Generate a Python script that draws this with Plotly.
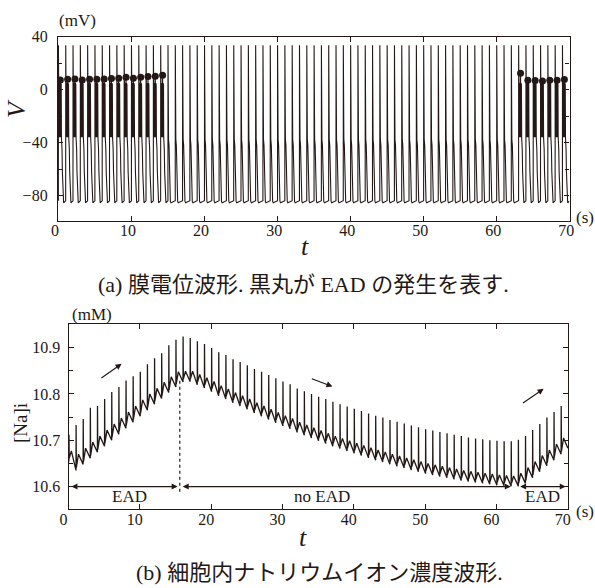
import numpy as np
import plotly.graph_objects as go

INK = "#231815"
FONT = '"Liberation Serif", "Times New Roman", serif'
FONT_JP = '"Liberation Serif", "Noto Sans CJK JP", serif'
W, H = 595, 588

# ---- stimulation: beat onset times (s) ----
beat_onset_s = [0.05, 1.05, 2.05, 3.05, 4.05, 5.05, 6.05, 7.05, 8.05, 9.05,
                10.05, 11.05, 12.05, 13.05, 14.05, 15.05, 16.05, 17.05, 18.05, 19.05,
                20.05, 21.05, 22.05, 23.05, 24.05, 25.05, 26.05, 27.05, 28.05, 29.05,
                30.05, 31.05, 32.05, 33.05, 34.05, 35.05, 36.05, 37.05, 38.05, 39.05,
                40.05, 41.05, 42.05, 43.05, 44.05, 45.05, 46.05, 47.05, 48.05, 49.05,
                50.05, 51.05, 52.05, 53.05, 54.05, 55.05, 56.05, 57.05, 58.05, 59.05,
                60.05, 61.05, 62.05, 63.05, 64.05, 65.05, 66.05, 67.05, 68.05, 69.05]

# beats that show an EAD, and the EAD peak potential (mV) of each
ead_beat_index = [0, 1, 2, 3, 4, 5, 6, 7, 8, 9, 10, 11, 12, 13, 14,
                  63, 64, 65, 66, 67, 68, 69]
ead_peak_mv = [7.4, 7.9, 8.1, 7.4, 7.9, 7.9, 8.1, 8.4, 8.6, 9.4, 8.6, 9.4, 9.9, 10.1, 10.9,
               12.4, 7.1, 6.9, 6.6, 7.1, 7.1, 7.7]

# action potential shape without EAD (time after onset in s, mV)
ap_dt = [0.000, 0.008, 0.030, 0.080, 0.150, 0.200, 0.240, 0.280, 0.330, 0.420, 0.600, 0.950]
ap_mv = [-84.0, 33.5, -35.0, -37.5, -42.0, -52.0, -66.0, -79.0, -84.5, -85.5, -85.0, -84.3]

# action potential shape with EAD oscillations; None marks the EAD peak
ead_dt = [0.000, 0.008, 0.030, 0.060, 0.090, 0.120, 0.150, 0.180, 0.210, 0.240, 0.270,
          0.300, 0.330, 0.360, 0.390, 0.420, 0.450, 0.500, 0.550, 0.600, 0.650, 0.720, 0.950]
ead_mv = [-84.0, 33.5, -35.0, 4.0, -36.0, 5.0, -36.0, 5.0, -36.0, 5.0, None,
          -36.0, 5.0, -36.0, 4.0, -36.0, -38.0, -45.0, -62.0, -78.0, -84.5, -85.5, -84.3]

# ---- intracellular sodium, per beat (mM) ----
na_peak_mm = [10.712, 10.733, 10.746, 10.770, 10.774, 10.789, 10.804, 10.815, 10.829, 10.838,
              10.848, 10.864, 10.877, 10.888, 10.905, 10.917, 10.924, 10.921, 10.914, 10.908,
              10.899, 10.890, 10.884, 10.875, 10.869, 10.862, 10.854, 10.848, 10.841, 10.834,
              10.827, 10.821, 10.812, 10.806, 10.800, 10.794, 10.789, 10.783, 10.778, 10.773,
              10.768, 10.763, 10.758, 10.753, 10.749, 10.744, 10.740, 10.736, 10.732, 10.728,
              10.724, 10.721, 10.718, 10.715, 10.712, 10.709, 10.706, 10.704, 10.702, 10.700,
              10.699, 10.698, 10.698, 10.701, 10.709, 10.722, 10.735, 10.749, 10.761, 10.774]
# level just before each beat (last entry: end of record)
na_trough_mm = [10.655, 10.635, 10.648, 10.661, 10.674, 10.687, 10.700, 10.713, 10.726, 10.739,
                10.752, 10.765, 10.778, 10.790, 10.803, 10.815, 10.826, 10.827, 10.820, 10.813,
                10.805, 10.796, 10.789, 10.781, 10.774, 10.767, 10.759, 10.752, 10.745, 10.738,
                10.731, 10.725, 10.717, 10.711, 10.705, 10.699, 10.693, 10.687, 10.682, 10.677,
                10.672, 10.667, 10.662, 10.657, 10.653, 10.648, 10.644, 10.640, 10.636, 10.632,
                10.628, 10.625, 10.622, 10.619, 10.616, 10.613, 10.611, 10.609, 10.607, 10.605,
                10.603, 10.602, 10.601, 10.601, 10.607, 10.619, 10.632, 10.645, 10.657, 10.670,
                10.683]
record_end_s = 70.0
na_tooth_mm = 0.022      # height of the slow hump after each upstroke

# ---- EAD / no-EAD intervals ----
interval_start = [0.2, 15.8, 63.1]
interval_end = [15.3, 62.0, 69.7]
interval_label = ["EAD", "no EAD", "EAD"]
interval_label_t = [8.6, 35.6, 66.4]
boundary_t = 15.6

# ---- build membrane potential trace ----
ead_lookup = dict(zip(ead_beat_index, ead_peak_mv))
v_t, v_mv, dot_t, dot_mv = [], [], [], []
for k, t0 in enumerate(beat_onset_s):
    if k in ead_lookup:
        for dt, mv in zip(ead_dt, ead_mv):
            if mv is None:
                mv = ead_lookup[k]
                dot_t.append(t0 + dt)
                dot_mv.append(mv)
            v_t.append(t0 + dt)
            v_mv.append(mv)
    else:
        for dt, mv in zip(ap_dt, ap_mv):
            v_t.append(t0 + dt)
            v_mv.append(mv)

# ---- build sodium trace ----
na_t, na_mm = [0.0], [na_trough_mm[0]]
for k, t0 in enumerate(beat_onset_s):
    b, bn = na_trough_mm[k], na_trough_mm[k + 1]
    hump = max(b, bn) + na_tooth_mm
    na_t += [t0, t0 + 0.015, t0 + 0.05, t0 + 0.35]
    na_mm += [b, na_peak_mm[k], b + 0.006, hump]
na_t.append(record_end_s)
na_mm.append(na_trough_mm[-1])

fig = go.Figure()
fig.add_trace(go.Scatter(x=v_t, y=v_mv, mode="lines", line=dict(color=INK, width=1.1),
                         xaxis="x", yaxis="y", hoverinfo="skip", showlegend=False))
fig.add_trace(go.Scatter(x=dot_t, y=dot_mv, mode="markers", marker=dict(size=7, color=INK),
                         xaxis="x", yaxis="y", hoverinfo="skip", showlegend=False))
fig.add_trace(go.Scatter(x=na_t, y=na_mm, mode="lines", line=dict(color=INK, width=1.3),
                         xaxis="x2", yaxis="y2", hoverinfo="skip", showlegend=False))


def px(x):
    return x / W


def py(y):
    return 1 - y / H


axis_common = dict(showline=True, linecolor=INK, linewidth=1.3, mirror="ticks",
                   ticks="inside", ticklen=5, tickcolor=INK, tickwidth=1,
                   showgrid=False, zeroline=False, automargin=False,
                   tickfont=dict(family=FONT, size=16, color=INK))

fig.update_layout(
    width=W, height=H, margin=dict(l=0, r=0, t=0, b=0, autoexpand=False),
    paper_bgcolor="white", plot_bgcolor="white",
    font=dict(family=FONT, color=INK),
    xaxis=dict(axis_common, domain=[px(58), px(569.5)], range=[0, 70.02],
               tick0=0, dtick=10, anchor="y", ticklabelstandoff=-5, ticklabelshift=-3),
    yaxis=dict(axis_common, domain=[py(221), py(36.7)], range=[-99.3, 40.05],
               tick0=-80, dtick=40, anchor="x", ticklabelstandoff=6,
               minor=dict(tick0=0, dtick=20, ticks="inside", ticklen=4, tickcolor=INK)),
    xaxis2=dict(axis_common, domain=[px(68.5), px(568)], range=[0, 70.02],
                tick0=0, dtick=10, anchor="y2", ticklabelstandoff=-5, ticklabelshift=-5),
    yaxis2=dict(axis_common, domain=[py(509.3), py(324)],
                range=[10.551, 10.951], tick0=10.6, dtick=0.1, tickformat=".1f",
                anchor="x2", ticklabelstandoff=4,
                minor=dict(tick0=10.6, dtick=0.05, ticks="inside", ticklen=4, tickcolor=INK)),
)

ann = []


def text(x, y, s, size=16, xanchor="center", yanchor="middle", italic=False, angle=0,
         family=FONT):
    ann.append(dict(x=px(x), y=py(y), xref="paper", yref="paper", text=s, showarrow=False,
                    xanchor=xanchor, yanchor=yanchor, textangle=angle,
                    font=dict(family=family, size=size, color=INK,
                              style="italic" if italic else "normal")))


# panel (a) labels
text(57, 20, "(mV)", 17, xanchor="left")
text(16, 109, "V", 26, italic=True, angle=-90)
text(574, 217, "(s)", 17, xanchor="left")
text(305, 246, "t", 26, italic=True)
text(303, 285, "(a) 膜電位波形. 黒丸が EAD の発生を表す.", 22, family=FONT_JP)

# panel (b) labels
text(70, 314, "(mM)", 17, xanchor="left")
text(20, 423, "[Na]i", 19, angle=-90)
text(574, 511, "(s)", 17, xanchor="left")
text(303, 537, "t", 26, italic=True)
text(319, 572, "(b) 細胞内ナトリウムイオン濃度波形.", 22, family=FONT_JP)

# trend arrows on the sodium trace
trend_tail_t = [4.4, 33.9, 63.5]
trend_tail_mm = [10.832, 10.834, 10.778]
trend_head_t = [7.44, 37.0, 66.6]
trend_head_mm = [10.865, 10.816, 10.811]
for tt, tm, ht, hm in zip(trend_tail_t, trend_tail_mm, trend_head_t, trend_head_mm):
    ann.append(dict(x=ht, y=hm, ax=tt, ay=tm, xref="x2", yref="y2", axref="x2", ayref="y2",
                    text="", showarrow=True, arrowhead=2, arrowsize=1, arrowwidth=1.2,
                    arrowcolor=INK, standoff=0))

# EAD / no-EAD interval arrows
for s0, s1, lab, lt in zip(interval_start, interval_end, interval_label, interval_label_t):
    ann.append(dict(x=s1, y=10.6, ax=s0, ay=10.6, xref="x2", yref="y2", axref="x2", ayref="y2",
                    text="", showarrow=True, arrowhead=2, startarrowhead=2, arrowside="end+start",
                    arrowsize=1, startarrowsize=1, arrowwidth=1.2, arrowcolor=INK,
                    standoff=0, startstandoff=0))
    ann.append(dict(x=lt, y=10.578, xref="x2", yref="y2", text=lab, showarrow=False,
                    font=dict(family=FONT, size=17, color=INK)))

fig.update_layout(annotations=ann)
fig.add_shape(type="line", xref="x2", yref="y2", x0=boundary_t, x1=boundary_t,
              y0=10.589, y1=10.835, line=dict(color=INK, width=1.2, dash="dot"))

fig.write_html("out.html")
